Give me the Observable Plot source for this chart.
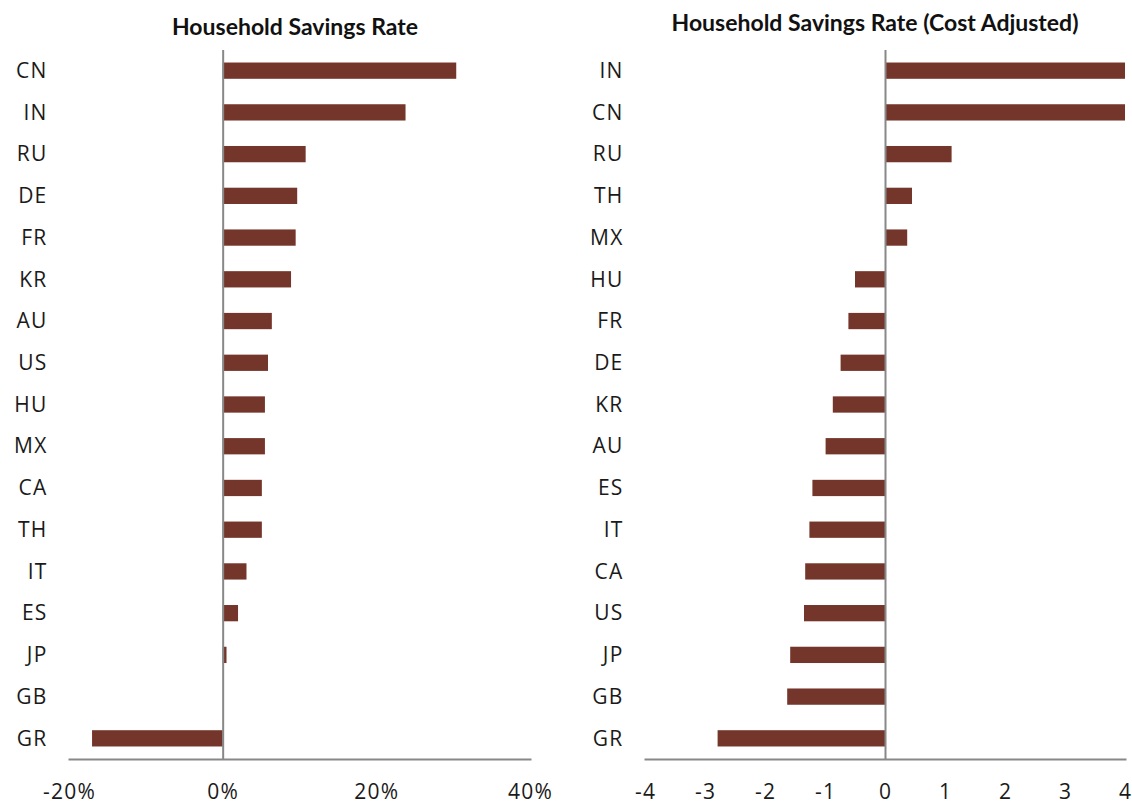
<!DOCTYPE html>
<html><head><meta charset="utf-8">
<script src="https://cdn.jsdelivr.net/npm/d3@7"></script>
<script src="https://cdn.jsdelivr.net/npm/@observablehq/plot@0.6"></script>
<style>
body{margin:0;background:#fff;}
#wrap{position:relative;width:1132px;height:801px;overflow:hidden;background:#fff;}
.title{position:absolute;font-family:Lato,sans-serif;font-weight:700;font-size:23px;line-height:28px;color:#111;white-space:nowrap;transform:translateX(-50%);}
.chart{position:absolute;top:40px;}
.chart svg, .chart svg text{font-family:"Open Sans",sans-serif !important;font-size:21px !important;}
.chart svg text{letter-spacing:1.2px;}
</style></head><body>
<div id="wrap">
<div class="title" style="left:295px;top:12px">Household Savings Rate</div>
<div class="title" style="left:875px;top:8px">Household Savings Rate (Cost Adjusted)</div>
<div class="chart" id="c1" style="left:0"></div>
<div class="chart" id="c2" style="left:566px"></div>
</div>
<script>
const leftCountries = ["CN","IN","RU","DE","FR","KR","AU","US","HU","MX","CA","TH","IT","ES","JP","GB","GR"];
const leftValues = [30.4, 23.8, 10.8, 9.7, 9.5, 8.9, 6.4, 5.9, 5.5, 5.5, 5.1, 5.1, 3.1, 2.0, 0.5, 0.0, -17.0];
const leftTicks = [-20, 0, 20, 40];

const rightCountries = ["IN","CN","RU","TH","MX","HU","FR","DE","KR","AU","ES","IT","CA","US","JP","GB","GR"];
const rightValues = [4.0, 4.0, 1.11, 0.45, 0.37, -0.5, -0.61, -0.74, -0.87, -0.99, -1.21, -1.26, -1.33, -1.35, -1.58, -1.63, -2.79];
const rightTicks = [-4, -3, -2, -1, 0, 1, 2, 3, 4];

function chart(countries, values, ticks, fmt, marginLeft, marginRight) {
  const data = countries.map((c, i) => ({country: c, value: values[i]}));
  return Plot.plot({
    width: 566, height: 761,
    marginTop: 10, marginBottom: 42, marginLeft, marginRight,
    style: {fontSize: "21px", color: "#1a1a1a", background: "transparent", overflow: "visible"},
    x: {domain: [ticks[0], ticks[ticks.length - 1]], ticks, tickFormat: fmt, tickSize: 0, tickPadding: 25, label: null},
    y: {domain: countries, round: false, paddingInner: 0.61, paddingOuter: 0.3, tickSize: 0, tickPadding: 22, label: null},
    marks: [
      Plot.barX(data, {x: "value", y: "country", fill: "#74352a"}),
      Plot.ruleX([0], {stroke: "#888", strokeWidth: 2}),
      Plot.frame({anchor: "bottom", stroke: "#888", strokeWidth: 2})
    ]
  });
}

document.getElementById("c1").append(chart(leftCountries, leftValues, leftTicks, d => d + "%", 69, 36));
document.getElementById("c2").append(chart(rightCountries, rightValues, rightTicks, d => String(d), 79, 7));
</script>
</body></html>
